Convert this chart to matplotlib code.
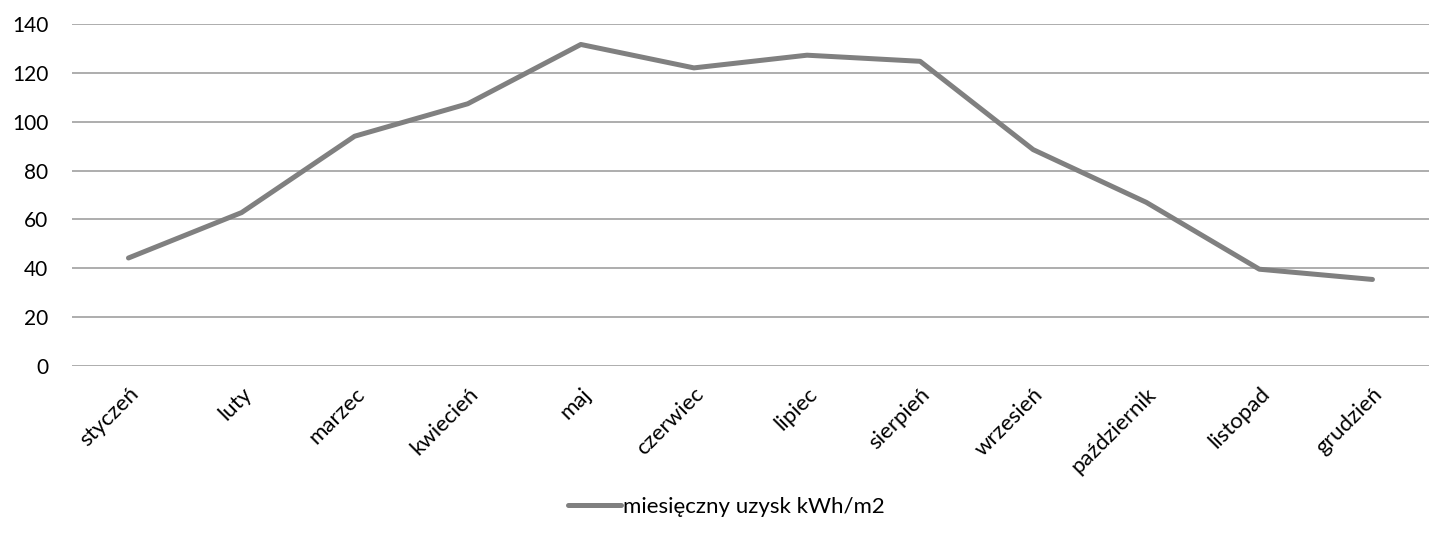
import matplotlib.pyplot as plt

months = ["styczeń", "luty", "marzec", "kwiecień", "maj", "czerwiec",
          "lipiec", "sierpień", "wrzesień", "październik", "listopad", "grudzień"]
uzysk = [44.2, 62.8, 94.1, 107.4, 131.7, 122.1, 127.3, 124.8, 88.6, 67.0, 39.6, 35.4]
yticks = [0, 20, 40, 60, 80, 100, 120, 140]

plt.rcParams['font.family'] = ['Lato', 'DejaVu Sans']

fig = plt.figure(figsize=(14.3, 5.38), dpi=100)
ax = fig.add_axes([0.0503, 0.320, 0.949, 0.635])

x = list(range(len(months)))
ax.plot(x, uzysk, color="#808080", linewidth=3.6, solid_capstyle="round",
        solid_joinstyle="round", label="miesięczny uzysk kWh/m2", zorder=3)

ax.set_xlim(-0.5, len(months) - 0.5)
ax.set_ylim(0, 140)
ax.set_yticks(yticks)
ax.set_xticks(x)
ax.set_xticklabels(months, rotation=45, ha="right", rotation_mode="anchor")
ax.tick_params(axis="both", length=0, colors="black")
ax.tick_params(axis="y", pad=17, labelsize=15)
ax.tick_params(axis="x", pad=13, labelsize=16)

ax.yaxis.grid(True, color="#a0a0a0", linewidth=1.2)
ax.set_axisbelow(True)
for side in ["top", "right", "left", "bottom"]:
    ax.spines[side].set_visible(False)

fig.legend(loc="center", bbox_to_anchor=(0.508, 0.058), frameon=False,
           fontsize=16, handlelength=2.35, handletextpad=0.1)

fig.savefig("out.png", dpi=100)
